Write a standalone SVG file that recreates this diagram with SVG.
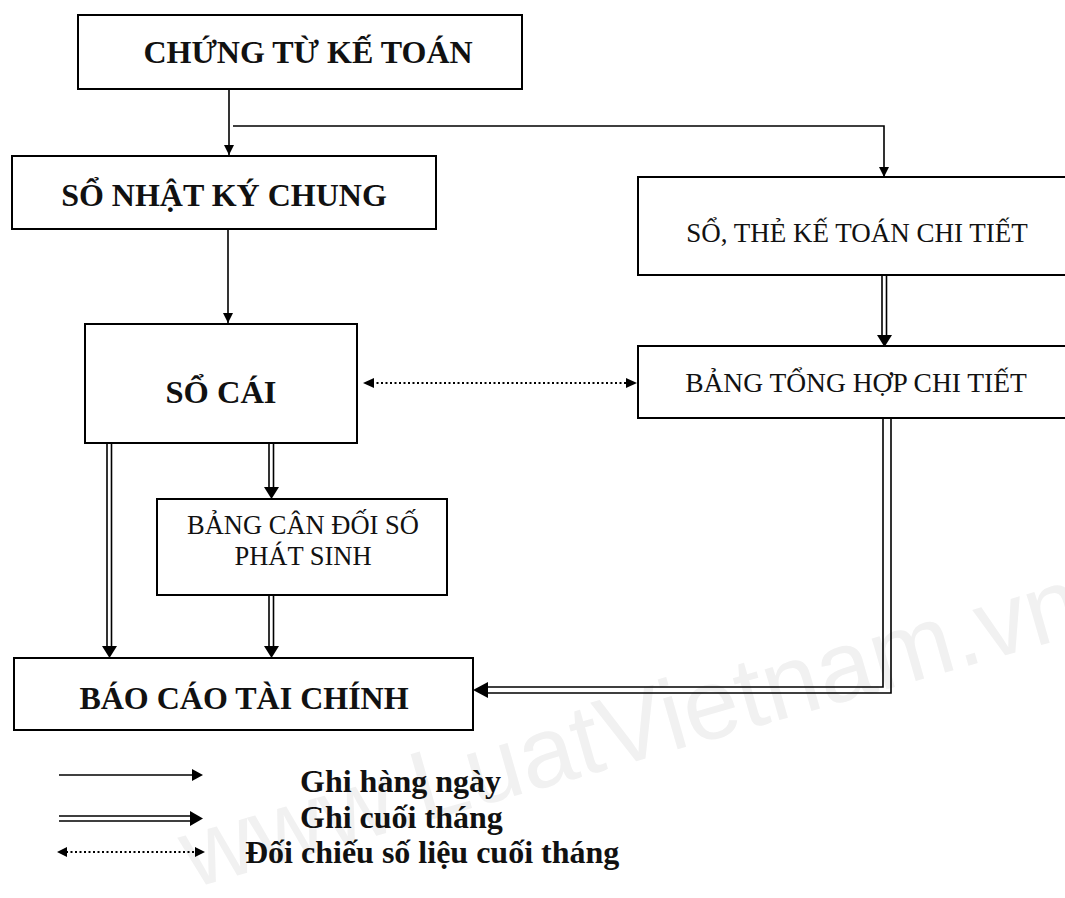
<svg xmlns="http://www.w3.org/2000/svg" width="1065" height="898" viewBox="0 0 1065 898">
<style>
.box{fill:#fff;stroke:#000;stroke-width:2}
.tb{font-family:"Liberation Serif","Times New Roman",serif;font-weight:bold;fill:#111;text-anchor:middle}
.tr{font-family:"Liberation Serif","Times New Roman",serif;fill:#111;text-anchor:middle}
.ln{fill:none;stroke:#000;stroke-width:1.6}
.dt{fill:none;stroke:#000;stroke-width:2.2;stroke-dasharray:2 2.5}
.hd{fill:#000}
.leg{font-family:"Liberation Serif","Times New Roman",serif;font-weight:bold;fill:#111;font-size:32px}
</style>
<defs>
<marker id="arr" viewBox="0 0 10 10" refX="10" refY="5" markerWidth="10" markerHeight="10" markerUnits="userSpaceOnUse" orient="auto">
<path d="M0,0 L10,5 L0,10 Z" fill="#000"/>
</marker>
</defs>
<rect width="1065" height="898" fill="#fff"/>
<text x="640" y="760" transform="rotate(-16 640 760)" font-family="Liberation Sans, Arial, sans-serif" font-size="100" fill="#f1f1f1" text-anchor="middle">www.LuatVietnam.vn</text>

<g id="connectors">
<path class="ln" d="M229,89 V155" marker-end="url(#arr)"/>
<path class="ln" d="M233,126 H884 V177" marker-end="url(#arr)"/>
<path class="ln" d="M228,229 V323" marker-end="url(#arr)"/>
<path class="dt" d="M372,383 H628"/>
<path class="hd" d="M363,383 L374,378 L374,388 Z"/>
<path class="hd" d="M637,383 L626,378 L626,388 Z"/>
<path class="ln" d="M882,275 V336 M886.5,275 V336"/>
<path class="hd" d="M877,335 L892,335 L884.5,347 Z"/>
<path class="ln" d="M107,443 V647 M111.5,443 V647"/>
<path class="hd" d="M102,646 L117,646 L109.5,658 Z"/>
<path class="ln" d="M269,443 V488 M273.5,443 V488"/>
<path class="hd" d="M264,487 L279,487 L271.5,499 Z"/>
<path class="ln" d="M269,595 V647 M273.5,595 V647"/>
<path class="hd" d="M264,646 L279,646 L271.5,658 Z"/>
<path class="ln" d="M883,418 V687 H486 M891,418 V693 H486"/>
<path class="hd" d="M473,690 L488,682 L488,698 Z"/>
</g>

<g id="n1"><rect class="box" x="78" y="15" width="444" height="74"/>
<text class="tb" x="308" y="63" font-size="32">CHỨNG TỪ KẾ TOÁN</text></g>
<g id="n2"><rect class="box" x="12" y="156" width="424" height="73"/>
<text class="tb" x="224" y="206" font-size="32">SỔ NHẬT KÝ CHUNG</text></g>
<g id="n3"><rect class="box" x="638" y="177" width="440" height="98"/>
<text class="tr" x="857" y="242" font-size="27">SỔ, THẺ KẾ TOÁN CHI TIẾT</text></g>
<g id="n4"><rect class="box" x="85" y="324" width="272" height="119"/>
<text class="tb" x="221" y="403" font-size="32.5">SỔ CÁI</text></g>
<g id="n5"><rect class="box" x="638" y="346" width="440" height="72"/>
<text class="tr" x="856" y="392" font-size="27.5">BẢNG TỔNG HỢP CHI TIẾT</text></g>
<g id="n6"><rect class="box" x="157" y="499" width="290" height="96"/>
<text class="tr" x="303" y="534" font-size="26.5">BẢNG CÂN ĐỐI SỐ</text>
<text class="tr" x="303" y="565" font-size="26.5">PHÁT SINH</text></g>
<g id="n7"><rect class="box" x="14" y="658" width="459" height="72"/>
<text class="tb" x="244" y="709" font-size="32">BÁO CÁO TÀI CHÍNH</text></g>

<g id="legend">
<path class="ln" d="M59,775 H193"/>
<path class="hd" d="M203,775 L192,769 L192,781 Z"/>
<path class="ln" d="M59,816 H192 M59,821 H192"/>
<path class="hd" d="M203,818.5 L190,811 L190,826 Z"/>
<path class="dt" d="M66,852 H196"/>
<path class="hd" d="M57,852 L67,847 L67,857 Z"/>
<path class="hd" d="M205,852 L195,847 L195,857 Z"/>
<text class="leg" x="300" y="792">Ghi hàng ngày</text>
<text class="leg" x="300" y="828">Ghi cuối tháng</text>
<text class="leg" x="245" y="863">Đối chiếu số liệu cuối tháng</text>
</g>
</svg>
